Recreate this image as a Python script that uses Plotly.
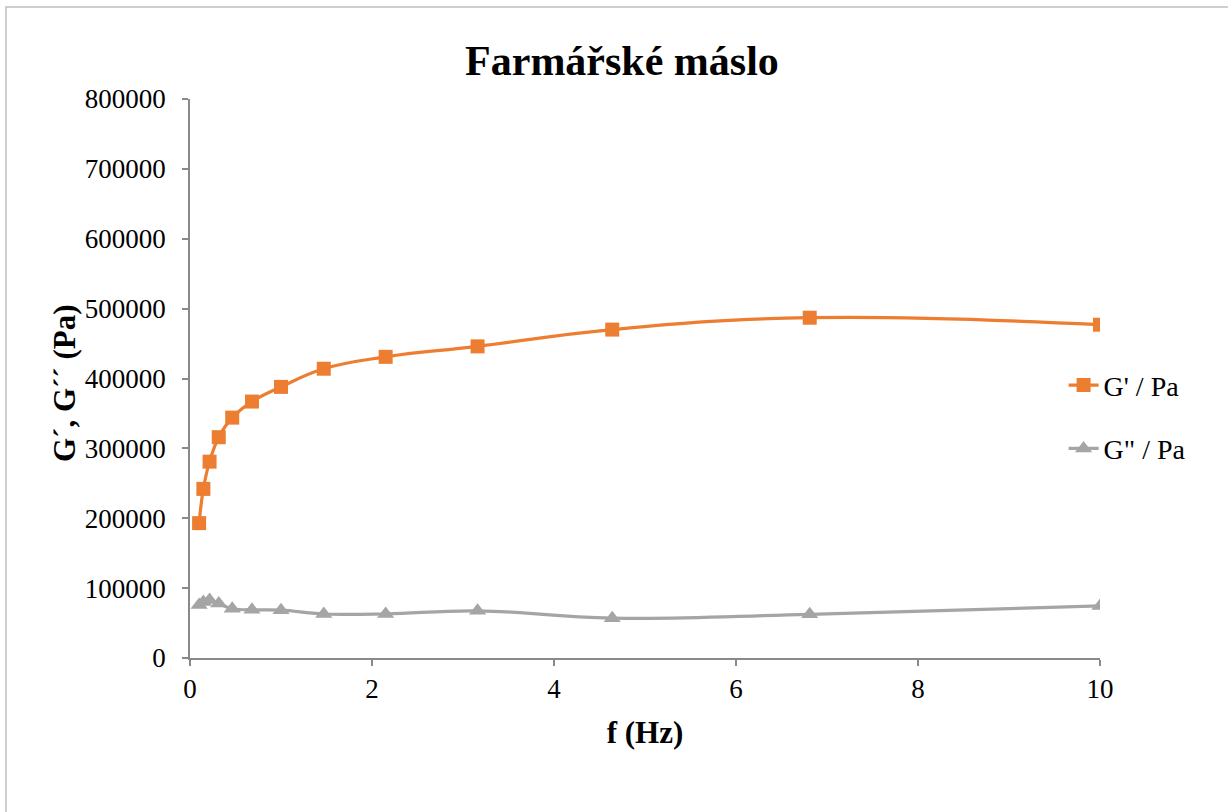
import plotly.graph_objects as go

freq = [0.1, 0.147, 0.215, 0.316, 0.464, 0.681, 1.0, 1.47, 2.15, 3.16, 4.64, 6.81, 10.0]
g_storage = [193000, 242000, 281000, 316000, 344000, 367000, 388000, 414000, 431000, 446000, 470000, 487000, 477000]
g_loss = [76000, 80000, 83000, 78000, 70500, 69000, 68500, 63000, 63000, 67500, 57000, 62500, 74500]

title_text = "Farmářské máslo"
x_title = "f (Hz)"
y_title = "G´, G´´ (Pa)"
name_storage = "G' / Pa"
name_loss = 'G" / Pa'

FONT = "Liberation Serif, Times New Roman, serif"
AXIS_COLOR = "#898989"

fig = go.Figure()
fig.add_trace(go.Scatter(
    x=freq, y=g_storage, name=name_storage, mode="lines+markers",
    line=dict(color="#ED7D31", width=3.2, shape="spline", smoothing=1.2),
    marker=dict(symbol="square", size=14, color="#ED7D31"),
    legendgroup="a",
))
fig.add_trace(go.Scatter(
    x=freq, y=g_loss, name=name_loss, mode="lines+markers",
    line=dict(color="#A5A5A5", width=3.2, shape="spline", smoothing=1.2),
    marker=dict(symbol="triangle-up", size=15, color="#A5A5A5"),
    legendgroup="b",
))

fig.update_layout(
    width=1228, height=812,
    paper_bgcolor="white", plot_bgcolor="white",
    margin=dict(l=190, r=128, t=99, b=154),
    font=dict(family=FONT, color="black", size=27),
    title=dict(text="<b>" + title_text + "</b>", x=0.5065, xanchor="center",
               y=0.926, yanchor="middle", font=dict(size=42, family=FONT, color="black")),
    showlegend=True,
    legend=dict(x=1.0 - 0.040, y=0.4314, xanchor="left", yanchor="middle",
                font=dict(size=28, family=FONT), tracegroupgap=24,
                traceorder="grouped", bgcolor="rgba(0,0,0,0)", itemwidth=30),
    xaxis=dict(
        range=[0, 10], dtick=2, tick0=0, showgrid=False, zeroline=False,
        showline=True, linecolor=AXIS_COLOR, linewidth=1.5,
        ticks="outside", ticklen=6, tickcolor=AXIS_COLOR, tickwidth=1.5,
        tickfont=dict(size=27, family=FONT),
        title=dict(text="<b>" + x_title + "</b>", font=dict(size=31, family=FONT), standoff=18),
    ),
    yaxis=dict(
        range=[0, 800000], dtick=100000, tick0=0, showgrid=False, zeroline=False,
        showline=True, linecolor=AXIS_COLOR, linewidth=1.5,
        ticks="outside", ticklen=6, tickcolor=AXIS_COLOR, tickwidth=1.5,
        tickformat="d", tickfont=dict(size=27, family=FONT), ticklabelstandoff=11,
    ),
)

fig.add_annotation(text="<b>" + y_title + "</b>", xref="paper", yref="paper",
                   x=(64 - 190) / 910, y=(658 - 383) / 559, xanchor="center", yanchor="middle",
                   textangle=-90, showarrow=False, font=dict(size=31, family=FONT, color="black"))

# chart frame (top and left edges visible in the reference)
fig.add_shape(type="rect", xref="paper", yref="paper",
              x0=-184 / 910, x1=1.5, y0=-1.0, y1=1 + 92 / 559,
              line=dict(color="#BFBFBF", width=1.5), fillcolor="rgba(0,0,0,0)", layer="below")

fig.write_html("out.html")
